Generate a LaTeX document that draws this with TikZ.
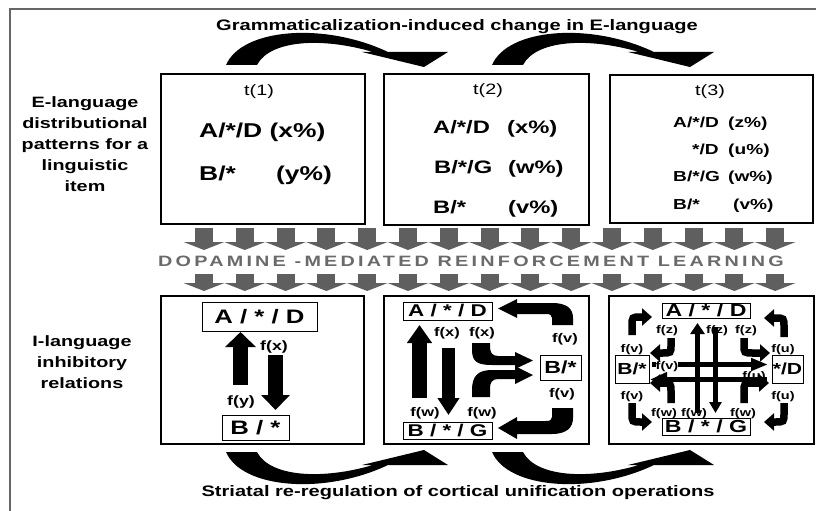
\documentclass[tikz,border=0pt]{standalone}
\usepackage{fontspec}
\setmainfont{Liberation Sans}[FakeStretch=1.32]
\newfontfamily\bandfont{Liberation Sans}[FakeStretch=1.32,LetterSpace=21.5]
\usetikzlibrary{arrows.meta}
\definecolor{framegray}{HTML}{666666}
\definecolor{bandgray}{HTML}{5F5F5F}
\definecolor{bandtxt}{HTML}{6A6A6A}
\newcommand\fs[1]{\fontsize{#1}{#1}\selectfont}
\begin{document}
\begin{tikzpicture}[x=1pt,y=-1pt,
  bigbox/.style={draw,line width=2pt,inner sep=0,anchor=north west},
  lblbox/.style={draw,line width=0.9pt,inner sep=0,font=\bfseries\fs{#1}},
  txt/.style={inner sep=0,font=\bfseries\fs{#1}},
  rtxt/.style={inner sep=0,font=\fs{#1}},
  fl/.style={inner sep=0,font=\bfseries\fs{#1}},
  sidelbl/.style={inner sep=0,align=center,font=\bfseries\fontsize{15}{21}\selectfont},
  blk/.style={line width=#1},
  hook/.style={line width=7.5pt,-{Triangle[width=17pt,length=10pt]}}]
\useasboundingbox (0,0) rectangle (816,511);
% frame
\draw[framegray,line width=1.5pt] (10,511) -- (10,9) -- (816,9);
% titles
\node[txt=15.2] (title) at (457,27) {Grammaticalization-induced change in E-language};
\node[txt=15.2] (caption) at (458,493) {Striatal re-regulation of cortical unification operations};
\node[sidelbl] (elang) at (85,144) {E-language\\distributional\\patterns for a\\linguistic\\item};
\node[sidelbl] (ilang) at (82,362) {I-language\\inhibitory\\relations};
% big curved arrows
\foreach \dx in {0,266}{
  \fill[shift={(\dx,0)}] (226,65) .. controls (242,28) and (325,22) .. (388,52) -- (448,52) -- (424,67) -- (362,52) -- (373,52) .. controls (322,37) and (270,40) .. (257,65) -- cycle;
  \fill[shift={(\dx,517)},yscale=-1] (226,65) .. controls (242,28) and (325,22) .. (388,52) -- (448,52) -- (424,67) -- (362,52) -- (373,52) .. controls (322,37) and (270,40) .. (257,65) -- cycle;
}
% top boxes
\node[bigbox,minimum width=204,minimum height=150] (T1) at (160,73) {};
\node[bigbox,minimum width=205,minimum height=151] (T2) at (383,73) {};
\node[bigbox,minimum width=203,minimum height=148] (T3) at (609,74) {};
\node[rtxt=15,anchor=base] (t1) at (259,95) {t(1)};
\node[rtxt=15,anchor=base] (t2) at (488,94) {t(2)};
\node[rtxt=15,anchor=base] (t3) at (710,95) {t(3)};
% box 1
\node[txt=20,anchor=base west] (p11) at (199,137) {A/*/D (x\%)};
\node[txt=20,anchor=base west] (p12) at (199,180) {B/*};
\node[txt=20,anchor=base west] (p12b) at (276,180) {(y\%)};
% box 2
\node[txt=18,anchor=base west] (p21) at (433,133) {A/*/D};
\node[txt=18,anchor=base west] (p21b) at (507,133) {(x\%)};
\node[txt=18,anchor=base west] (p22) at (434,173) {B/*/G};
\node[txt=18,anchor=base west] (p22b) at (508,173) {(w\%)};
\node[txt=18,anchor=base west] (p23) at (433,213) {B/*};
\node[txt=18,anchor=base west] (p23b) at (508,213) {(v\%)};
% box 3
\node[txt=14.5,anchor=base west] (p31) at (673,127) {A/*/D};
\node[txt=14.5,anchor=base west] (p31b) at (728,127) {(z\%)};
\node[txt=14.5,anchor=base east] (p32) at (719,154) {*/D};
\node[txt=14.5,anchor=base west] (p32b) at (728,154) {(u\%)};
\node[txt=14.5,anchor=base west] (p33) at (673,181) {B/*/G};
\node[txt=14.5,anchor=base west] (p33b) at (728,181) {(w\%)};
\node[txt=14.5,anchor=base west] (p34) at (673,209) {B/*};
\node[txt=14.5,anchor=base west] (p34b) at (733,209) {(v\%)};
% band
\foreach \i in {0,...,14}{
  \pgfmathsetmacro\xc{204+40.8*\i}
  \fill[bandgray] (\xc-9,228) rectangle (\xc+9,242.5);
  \fill[bandgray] (\xc-20.4,242) -- (\xc+20.4,242) -- (\xc,250) -- cycle;
  \fill[bandgray] (\xc-9,274) rectangle (\xc+9,283.5);
  \fill[bandgray] (\xc-20.4,283) -- (\xc+20.4,283) -- (\xc,291) -- cycle;
}
\node[inner sep=0,text=bandtxt,font=\bandfont\bfseries\fs{15}] (dop) at (471,261) {DOPAMINE -MEDIATED REINFORCEMENT LEARNING};
% bottom boxes
\node[bigbox,minimum width=203,minimum height=148] (B1) at (160,295) {};
\node[bigbox,minimum width=205,minimum height=148] (B2) at (383,295) {};
\node[bigbox,minimum width=205,minimum height=148] (B3) at (608,295) {};
% ---- bottom box 1
\node[lblbox=19.5,minimum width=115,minimum height=29] (b1A) at (259.5,316.5) {A / * / D};
\node[lblbox=19.5,minimum width=67,minimum height=25] (b1B) at (255.5,427.5) {B / *};
\draw[blk=15pt,-{Triangle[width=30pt,length=15pt]}] (240.5,385) -- (240.5,332);
\draw[blk=15pt,-{Triangle[width=28pt,length=15pt]}] (275.5,355) -- (275.5,410);
\node[fl=13.5] (fx1) at (274,347) {f(x)};
\node[fl=13.5] (fy1) at (241,402) {f(y)};
% ---- bottom box 2
\node[lblbox=17,minimum width=89,minimum height=18] (b2A) at (447.5,311) {A / * / D};
\node[lblbox=17,minimum width=89,minimum height=17] (b2G) at (447.5,430.5) {B / * / G};
\node[lblbox=17.5,minimum width=41,minimum height=25] (b2B) at (560.5,367.5) {B/*};
\draw[blk=15pt,-{Triangle[width=24pt,length=18pt]}] (419.5,398) -- (419.5,325);
\draw[blk=13pt,-{Triangle[width=21pt,length=17pt]}] (448.5,348) -- (448.5,415);
\fill (472,343) -- (472,350) .. controls (472,362) and (478,365) .. (492,365) -- (515,365) -- (515,369) -- (533,360.5) -- (515,352) -- (515,356) -- (498,356) .. controls (492,356) and (490,352) .. (490,347) -- (490,343) -- cycle;
\fill (472,397) -- (472,390) .. controls (472,376) and (478,370) .. (492,370) -- (515,370) -- (515,366) -- (533,375) -- (515,384) -- (515,379) -- (498,379) .. controls (492,379) and (490,383) .. (490,388) -- (490,397) -- cycle;
\fill (552,325) -- (552,318) .. controls (552,315) and (550,314) .. (546,314) -- (517,314) -- (517,318) -- (498,308.5) -- (517,299) -- (517,303) -- (552,303) .. controls (566,303) and (573,308) .. (573,318) -- (573,325) -- cycle;
\fill (552,408) -- (552,417) .. controls (552,420) and (550,421) .. (546,421) -- (517,421) -- (517,417) -- (498,428) -- (517,439) -- (517,434) -- (552,434) .. controls (566,434) and (573,428) .. (573,418) -- (573,408) -- cycle;
\node[fl=12.5] (fx2a) at (447,333) {f(x)};
\node[fl=12.5] (fx2b) at (482,333) {f(x)};
\node[fl=12.5] (fv2a) at (565,339) {f(v)};
\node[fl=12.5] (fv2b) at (562,394) {f(v)};
\node[fl=12.5] (fw2a) at (425,413) {f(w)};
\node[fl=12.5] (fw2b) at (482,413) {f(w)};
% ---- bottom box 3
\node[lblbox=17.5,minimum width=88,minimum height=15] (b3A) at (706,310.5) {A / * / D};
\node[lblbox=17.5,minimum width=88,minimum height=17] (b3G) at (706,426.5) {B / * / G};
\node[lblbox=16,minimum width=34,minimum height=28] (b3B) at (632,369) {B/*};
\node[lblbox=16,minimum width=31,minimum height=28] (b3D) at (787.5,369) {*/D};
\node[fl=11] (fu3b) at (754,377) {f(u)};
\draw[blk=5.5pt,-{Triangle[width=14pt,length=11pt]}] (697.5,413) -- (697.5,323);
\draw[blk=5.5pt,-{Triangle[width=12pt,length=11pt]}] (715.5,327) -- (715.5,413);
\draw[blk=5.5pt,-{Triangle[width=12pt,length=17pt]}] (652,364.5) -- (768,364.5);
\draw[blk=5.5pt,-{Triangle[width=14pt,length=17pt]}] (767,379.5) -- (650,379.5);
\draw[hook] (632,335) -- (632,326) .. controls (632,317) .. (641,317) -- (652,317);
\draw[hook] (671,338) -- (671,345) .. controls (671,353) .. (662,353) -- (650,353);
\draw[hook] (744,338) -- (744,345) .. controls (744,353) .. (753,353) -- (770,353);
\draw[hook] (784,337) -- (784,327) .. controls (784,318) .. (775,318) -- (764,318);
\draw[hook] (632,403) -- (632,413) .. controls (632,422) .. (641,422) -- (652,422);
\draw[hook] (671,403) -- (671,392) .. controls (671,383) .. (662,383) -- (650,383);
\draw[hook] (744,403) -- (744,392) .. controls (744,383) .. (753,383) -- (769,383);
\draw[hook] (784,403) -- (784,413) .. controls (784,422) .. (775,422) -- (764,422);
\node[fl=11] (fv3a) at (632,350) {f(v)};
\node[fl=11] (fz3a) at (667,331) {f(z)};
\node[fl=11] (fz3b) at (717,331) {f(z)};
\node[fl=11] (fz3c) at (746,331) {f(z)};
\node[fl=11] (fu3a) at (783,350) {f(u)};
\node[fl=11,fill=white] (fv3b) at (667,367) {f(v)};
\node[fl=11] (fv3c) at (632,397) {f(v)};
\node[fl=11] (fu3c) at (783,397) {f(u)};
\node[fl=11] (fw3a) at (664,414) {f(w)};
\node[fl=11] (fw3b) at (694,414) {f(w)};
\node[fl=11] (fw3c) at (743,414) {f(w)};
\end{tikzpicture}
\end{document}
